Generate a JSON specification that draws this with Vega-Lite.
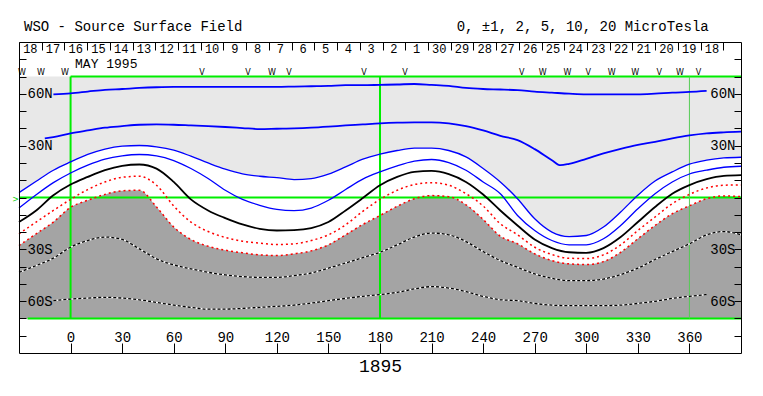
{
  "$schema": "https://vega.github.io/schema/vega-lite/v6.json",
  "width": 722,
  "height": 311,
  "autosize": "none",
  "padding": {"left": 19, "top": 42, "right": 22, "bottom": 43},
  "background": "white",
  "config": {
    "view": {"stroke": null},
    "font": "Liberation Mono",
    "axis": {"grid": false, "domain": true, "domainColor": "black", "domainWidth": 1, "tickColor": "black", "tickWidth": 1, "labelColor": "black", "labelFont": "Liberation Mono", "labelFontSize": 14, "titleFont": "Liberation Mono", "titleColor": "black", "labelOverlap": false, "labelFlush": false}
  },
  "datasets": {
    "contours": [
      {"lon": -30, "L3": 2.8, "L4": -6.1, "L5": -14.2, "L6": -21.0, "L7": -27.8, "L8": -43.3},
      {"lon": -20, "L3": 9.4, "L4": 1.6, "L5": -7.5, "L6": -14.2, "L7": -21.0, "L8": -39.4},
      {"lon": -15, "L2": 34.2},
      {"lon": -10, "L1": 59.7, "L2": 35.0, "L3": 15.8, "L4": 8.6, "L5": 1.3, "L6": -7.5, "L7": -14.2, "L8": -35.1, "L9": -59.7},
      {"lon": 0, "L1": 60.3, "L2": 37.1, "L3": 20.6, "L4": 14.2, "L5": 7.5, "L6": -1.1, "L7": -5.7, "L8": -28.8, "L9": -58.8},
      {"lon": 10, "L1": 61.3, "L2": 38.8, "L3": 24.9, "L4": 18.7, "L5": 11.9, "L6": 4.6, "L7": -1.6, "L8": -24.9, "L9": -58.2},
      {"lon": 20, "L1": 62.3, "L2": 40.4, "L3": 28.0, "L4": 22.2, "L5": 15.8, "L6": 9.0, "L7": 1.8, "L8": -22.9, "L9": -57.8},
      {"lon": 30, "L1": 62.8, "L2": 41.3, "L3": 29.7, "L4": 24.1, "L5": 18.3, "L6": 11.7, "L7": 3.9, "L8": -24.3, "L9": -58.2},
      {"lon": 40, "L1": 63.4, "L2": 42.1, "L3": 30.1, "L4": 24.9, "L5": 19.1, "L6": 12.3, "L7": 4.2, "L8": -29.7, "L9": -59.2},
      {"lon": 50, "L1": 63.8, "L2": 42.3, "L3": 29.3, "L4": 24.1, "L5": 16.7, "L6": 7.1, "L7": -5.5, "L8": -35.5, "L9": -60.7},
      {"lon": 60, "L1": 64.0, "L2": 42.1, "L3": 27.4, "L4": 21.4, "L5": 9.0, "L6": -4.9, "L7": -17.1, "L8": -39.0, "L9": -62.3},
      {"lon": 70, "L1": 64.0, "L2": 41.7, "L3": 23.9, "L4": 16.8, "L5": -1.1, "L6": -14.2, "L7": -24.3, "L8": -41.3, "L9": -63.6},
      {"lon": 80, "L1": 64.0, "L2": 41.3, "L3": 20.0, "L4": 11.0, "L5": -7.5, "L6": -19.7, "L7": -28.2, "L8": -43.3, "L9": -64.6},
      {"lon": 90, "L1": 64.0, "L2": 40.8, "L3": 16.4, "L4": 4.2, "L5": -11.9, "L6": -23.1, "L7": -30.5, "L8": -44.8, "L9": -64.6},
      {"lon": 100, "L1": 64.0, "L2": 40.2, "L3": 13.7, "L4": -1.1, "L5": -15.6, "L6": -25.3, "L7": -32.0, "L8": -45.8, "L9": -64.2},
      {"lon": 110, "L1": 64.0, "L2": 39.6, "L3": 12.3, "L4": -4.5, "L5": -18.1, "L6": -26.4, "L7": -33.2, "L8": -46.2, "L9": -63.6},
      {"lon": 120, "L1": 64.0, "L2": 39.8, "L3": 11.5, "L4": -6.9, "L5": -19.1, "L6": -27.2, "L7": -33.6, "L8": -46.2, "L9": -63.0},
      {"lon": 130, "L1": 64.2, "L2": 40.0, "L3": 10.4, "L4": -7.6, "L5": -18.9, "L6": -26.8, "L7": -32.6, "L8": -45.2, "L9": -62.3},
      {"lon": 140, "L1": 64.4, "L2": 40.4, "L3": 10.9, "L4": -6.1, "L5": -17.7, "L6": -24.9, "L7": -30.9, "L8": -43.7, "L9": -61.1},
      {"lon": 150, "L1": 64.6, "L2": 41.0, "L3": 13.5, "L4": -1.6, "L5": -14.2, "L6": -21.6, "L7": -27.4, "L8": -40.9, "L9": -59.7},
      {"lon": 160, "L1": 65.0, "L2": 41.7, "L3": 17.7, "L4": 4.6, "L5": -7.5, "L6": -15.8, "L7": -21.6, "L8": -37.9, "L9": -58.4},
      {"lon": 170, "L1": 65.0, "L2": 42.3, "L3": 22.2, "L4": 10.6, "L5": -0.3, "L6": -8.0, "L7": -15.6, "L8": -34.8, "L9": -57.2},
      {"lon": 180, "L1": 65.2, "L2": 42.9, "L3": 25.1, "L4": 14.8, "L5": 7.1, "L6": -1.1, "L7": -10.4, "L8": -31.7, "L9": -56.2},
      {"lon": 190, "L1": 65.4, "L2": 43.3, "L3": 27.2, "L4": 18.3, "L5": 11.9, "L6": 4.2, "L7": -5.1, "L8": -27.4, "L9": -54.9},
      {"lon": 200, "L1": 65.7, "L2": 43.5, "L3": 28.6, "L4": 21.0, "L5": 14.8, "L6": 7.5, "L7": -0.7, "L8": -22.9, "L9": -52.9},
      {"lon": 210, "L1": 65.2, "L2": 43.5, "L3": 28.6, "L4": 22.0, "L5": 15.4, "L6": 8.6, "L7": 1.1, "L8": -20.6, "L9": -51.6},
      {"lon": 220, "L1": 64.6, "L2": 42.9, "L3": 27.2, "L4": 20.2, "L5": 13.5, "L6": 7.1, "L7": 0.5, "L8": -21.6, "L9": -52.4},
      {"lon": 230, "L1": 63.4, "L2": 41.3, "L3": 23.5, "L4": 15.8, "L5": 9.0, "L6": 2.2, "L7": -4.2, "L8": -25.5, "L9": -54.5},
      {"lon": 240, "L1": 62.8, "L2": 38.8, "L3": 16.8, "L4": 9.0, "L5": 1.7, "L6": -4.9, "L7": -12.7, "L8": -31.3, "L9": -57.2},
      {"lon": 250, "L1": 62.5, "L2": 35.7, "L3": 9.0, "L4": 2.2, "L5": -7.5, "L6": -15.2, "L7": -22.4, "L8": -36.5, "L9": -59.2},
      {"lon": 260, "L1": 62.1, "L2": 33.2, "L3": -0.7, "L4": -10.4, "L5": -16.2, "L6": -21.6, "L7": -26.8, "L8": -40.4, "L9": -59.7},
      {"lon": 270, "L1": 61.3, "L2": 28.0, "L3": -12.3, "L4": -19.1, "L5": -24.3, "L6": -28.8, "L7": -32.6, "L8": -44.2, "L9": -61.3},
      {"lon": 280, "L1": 60.7, "L2": 21.6, "L3": -20.0, "L4": -24.9, "L5": -29.3, "L6": -33.0, "L7": -36.5, "L8": -46.8, "L9": -62.3},
      {"lon": 285, "L2": 18.7},
      {"lon": 290, "L1": 60.1, "L2": 19.5, "L3": -22.6, "L4": -27.4, "L5": -31.7, "L6": -35.2, "L7": -38.4, "L8": -48.1, "L9": -62.6},
      {"lon": 300, "L1": 59.7, "L2": 22.4, "L3": -22.0, "L4": -27.4, "L5": -32.0, "L6": -35.3, "L7": -38.8, "L8": -48.1, "L9": -62.6},
      {"lon": 310, "L1": 59.7, "L2": 25.5, "L3": -17.1, "L4": -23.9, "L5": -29.3, "L6": -33.2, "L7": -37.1, "L8": -47.2, "L9": -62.6},
      {"lon": 320, "L1": 59.7, "L2": 28.2, "L3": -8.4, "L4": -16.2, "L5": -22.9, "L6": -27.4, "L7": -31.7, "L8": -44.6, "L9": -62.3},
      {"lon": 330, "L1": 59.7, "L2": 30.5, "L3": 1.3, "L4": -6.5, "L5": -14.2, "L6": -19.1, "L7": -23.9, "L8": -40.9, "L9": -61.3},
      {"lon": 340, "L1": 60.1, "L2": 32.2, "L3": 9.5, "L4": 2.2, "L5": -5.5, "L6": -11.3, "L7": -16.2, "L8": -35.9, "L9": -60.1},
      {"lon": 350, "L1": 60.7, "L2": 34.2, "L3": 14.8, "L4": 9.0, "L5": 2.2, "L6": -3.6, "L7": -9.4, "L8": -31.3, "L9": -58.4},
      {"lon": 360, "L1": 61.1, "L2": 35.9, "L3": 19.3, "L4": 13.6, "L5": 7.2, "L6": 1.8, "L7": -4.8, "L8": -26.8, "L9": -57.2},
      {"lon": 370, "L1": 61.7, "L2": 37.1, "L3": 21.6, "L4": 15.8, "L5": 10.6, "L6": 5.5, "L7": -0.7, "L8": -21.6, "L9": -56.2},
      {"lon": 380, "L2": 37.7, "L3": 22.9, "L4": 17.5, "L5": 12.5, "L6": 7.1, "L7": 0.9, "L8": -19.7},
      {"lon": 390, "L2": 38.1, "L3": 23.3, "L4": 18.1, "L5": 12.9, "L6": 7.3, "L7": 0.5, "L8": -21.6}
    ],
    "guides": [
      {"lon": 0, "lon2": 0, "lat": -70, "lat2": 70},
      {"lon": 180, "lon2": 180, "lat": -70, "lat2": 70},
      {"lon": -30, "lon2": 390, "lat": 0, "lat2": 0},
      {"lon": 0, "lon2": 390, "lat": 70, "lat2": 70},
      {"lon": -25, "lon2": 390, "lat": -70, "lat2": -70}
    ],
    "meridian": [
      {"lon": 360, "lon2": 360, "lat": -70, "lat2": 70}
    ],
    "plotbox": [
      {"lon": -30, "lon2": 390, "lat": -70, "lat2": 70}
    ],
    "days": [
      {"lon": -23.4, "day": "18"}, {"lon": -10.18, "day": "17"}, {"lon": 3.03, "day": "16"}, {"lon": 16.25, "day": "15"},
      {"lon": 29.47, "day": "14"}, {"lon": 42.69, "day": "13"}, {"lon": 55.9, "day": "12"}, {"lon": 69.12, "day": "11"},
      {"lon": 82.34, "day": "10"}, {"lon": 95.55, "day": "9"}, {"lon": 108.77, "day": "8"}, {"lon": 121.99, "day": "7"},
      {"lon": 135.2, "day": "6"}, {"lon": 148.42, "day": "5"}, {"lon": 161.64, "day": "4"}, {"lon": 174.86, "day": "3"},
      {"lon": 188.07, "day": "2"}, {"lon": 201.29, "day": "1"}, {"lon": 214.51, "day": "30"}, {"lon": 227.72, "day": "29"},
      {"lon": 240.94, "day": "28"}, {"lon": 254.16, "day": "27"}, {"lon": 267.37, "day": "26"}, {"lon": 280.59, "day": "25"},
      {"lon": 293.81, "day": "24"}, {"lon": 307.03, "day": "23"}, {"lon": 320.24, "day": "22"}, {"lon": 333.46, "day": "21"},
      {"lon": 346.68, "day": "20"}, {"lon": 359.89, "day": "19"}, {"lon": 373.11, "day": "18"}
    ],
    "sectors": [
      {"lon": -28.3, "sym": "W"}, {"lon": -17.2, "sym": "W"}, {"lon": -3.2, "sym": "W"}, {"lon": 76.5, "sym": "V"},
      {"lon": 103.2, "sym": "V"}, {"lon": 117.2, "sym": "W"}, {"lon": 127.1, "sym": "V"}, {"lon": 170.7, "sym": "V"},
      {"lon": 194.5, "sym": "V"}, {"lon": 262.4, "sym": "V"}, {"lon": 274.7, "sym": "W"}, {"lon": 289.0, "sym": "W"},
      {"lon": 301.2, "sym": "V"}, {"lon": 314.8, "sym": "W"}, {"lon": 328.4, "sym": "W"}, {"lon": 342.5, "sym": "V"},
      {"lon": 354.5, "sym": "W"}, {"lon": 365.2, "sym": "V"}
    ],
    "notes": [
      {"id": "title", "label": "WSO - Source Surface Field"},
      {"id": "levels", "label": "0, ±1, 2, 5, 10, 20 MicroTesla"},
      {"id": "month", "label": "MAY 1995"},
      {"id": "eq", "label": ">"}
    ]
  },
  "layer": [
    {
      "data": {"name": "plotbox"},
      "mark": {"type": "rect", "fill": "#e8e8e8"},
      "encoding": {
        "x": {"field": "lon", "type": "quantitative", "scale": {"domain": [-30, 390], "nice": false, "zero": false}, "axis": null},
        "x2": {"field": "lon2"},
        "y": {"field": "lat", "type": "quantitative", "scale": {"domain": [-90, 90], "nice": false, "zero": false}, "axis": null},
        "y2": {"field": "lat2"}
      }
    },
    {
      "data": {"name": "contours"},
      "mark": {"type": "area", "fill": "white", "interpolate": "monotone", "invalid": "filter"},
      "encoding": {
        "x": {"field": "lon", "type": "quantitative", "scale": {"domain": [-30, 390], "nice": false, "zero": false}, "axis": null},
        "y": {"field": "L3", "type": "quantitative", "scale": {"domain": [-90, 90], "nice": false, "zero": false}, "axis": null},
        "y2": {"datum": -70}
      }
    },
    {
      "data": {"name": "contours"},
      "mark": {"type": "area", "fill": "#a4a4a4", "interpolate": "monotone", "invalid": "filter"},
      "encoding": {
        "x": {"field": "lon", "type": "quantitative", "scale": {"domain": [-30, 390], "nice": false, "zero": false}, "axis": null},
        "y": {"field": "L7", "type": "quantitative", "scale": {"domain": [-90, 90], "nice": false, "zero": false}, "axis": null},
        "y2": {"datum": -70}
      }
    },
    {
      "data": {"name": "guides"},
      "mark": {"type": "rule", "color": "#00ee00", "strokeWidth": 2},
      "encoding": {
        "x": {"field": "lon", "type": "quantitative", "scale": {"domain": [-30, 390], "nice": false, "zero": false}, "axis": null},
        "x2": {"field": "lon2"},
        "y": {"field": "lat", "type": "quantitative", "scale": {"domain": [-90, 90], "nice": false, "zero": false}, "axis": null},
        "y2": {"field": "lat2"}
      }
    },
    {
      "data": {"name": "meridian"},
      "mark": {"type": "rule", "color": "#55cc55", "strokeWidth": 1},
      "encoding": {
        "x": {"field": "lon", "type": "quantitative", "scale": {"domain": [-30, 390], "nice": false, "zero": false}, "axis": null},
        "x2": {"field": "lon2"},
        "y": {"field": "lat", "type": "quantitative", "scale": {"domain": [-90, 90], "nice": false, "zero": false}, "axis": null},
        "y2": {"field": "lat2"}
      }
    },
    {
      "data": {"name": "contours"},
      "mark": {"type": "line", "stroke": "#0000ff", "strokeWidth": 1.8, "interpolate": "monotone", "invalid": "filter"},
      "encoding": {
        "x": {"field": "lon", "type": "quantitative", "scale": {"domain": [-30, 390], "nice": false, "zero": false}, "axis": null},
        "y": {"field": "L1", "type": "quantitative", "scale": {"domain": [-90, 90], "nice": false, "zero": false}, "axis": null}}
    },
    {
      "data": {"name": "contours"},
      "mark": {"type": "line", "stroke": "#0000ff", "strokeWidth": 1.8, "interpolate": "monotone", "invalid": "filter"},
      "encoding": {
        "x": {"field": "lon", "type": "quantitative", "scale": {"domain": [-30, 390], "nice": false, "zero": false}, "axis": null},
        "y": {"field": "L2", "type": "quantitative", "scale": {"domain": [-90, 90], "nice": false, "zero": false}, "axis": null}}
    },
    {
      "data": {"name": "contours"},
      "mark": {"type": "line", "stroke": "#0000ff", "strokeWidth": 1.3, "interpolate": "monotone", "invalid": "filter"},
      "encoding": {
        "x": {"field": "lon", "type": "quantitative", "scale": {"domain": [-30, 390], "nice": false, "zero": false}, "axis": null},
        "y": {"field": "L3", "type": "quantitative", "scale": {"domain": [-90, 90], "nice": false, "zero": false}, "axis": null}}
    },
    {
      "data": {"name": "contours"},
      "mark": {"type": "line", "stroke": "#0000ff", "strokeWidth": 1.3, "interpolate": "monotone", "invalid": "filter"},
      "encoding": {
        "x": {"field": "lon", "type": "quantitative", "scale": {"domain": [-30, 390], "nice": false, "zero": false}, "axis": null},
        "y": {"field": "L4", "type": "quantitative", "scale": {"domain": [-90, 90], "nice": false, "zero": false}, "axis": null}}
    },
    {
      "data": {"name": "contours"},
      "mark": {"type": "line", "stroke": "black", "strokeWidth": 1.8, "interpolate": "monotone", "invalid": "filter"},
      "encoding": {
        "x": {"field": "lon", "type": "quantitative", "scale": {"domain": [-30, 390], "nice": false, "zero": false}, "axis": null},
        "y": {"field": "L5", "type": "quantitative", "scale": {"domain": [-90, 90], "nice": false, "zero": false}, "axis": null}}
    },
    {
      "data": {"name": "contours"},
      "mark": {"type": "line", "stroke": "#ff0000", "strokeWidth": 1.5, "strokeDash": [2, 3], "interpolate": "monotone", "invalid": "filter"},
      "encoding": {
        "x": {"field": "lon", "type": "quantitative", "scale": {"domain": [-30, 390], "nice": false, "zero": false}, "axis": null},
        "y": {"field": "L6", "type": "quantitative", "scale": {"domain": [-90, 90], "nice": false, "zero": false}, "axis": null}}
    },
    {
      "data": {"name": "contours"},
      "mark": {"type": "line", "stroke": "#ff0000", "strokeWidth": 1.5, "strokeDash": [2, 3], "interpolate": "monotone", "invalid": "filter"},
      "encoding": {
        "x": {"field": "lon", "type": "quantitative", "scale": {"domain": [-30, 390], "nice": false, "zero": false}, "axis": null},
        "y": {"field": "L7", "type": "quantitative", "scale": {"domain": [-90, 90], "nice": false, "zero": false}, "axis": null}}
    },
    {
      "data": {"name": "contours"},
      "mark": {"type": "line", "stroke": "white", "strokeWidth": 1.3, "interpolate": "monotone", "invalid": "filter"},
      "encoding": {
        "x": {"field": "lon", "type": "quantitative", "scale": {"domain": [-30, 390], "nice": false, "zero": false}, "axis": null},
        "y": {"field": "L8", "type": "quantitative", "scale": {"domain": [-90, 90], "nice": false, "zero": false}, "axis": null}}
    },
    {
      "data": {"name": "contours"},
      "mark": {"type": "line", "stroke": "black", "strokeWidth": 1.3, "strokeDash": [3, 2], "interpolate": "monotone", "invalid": "filter"},
      "encoding": {
        "x": {"field": "lon", "type": "quantitative", "scale": {"domain": [-30, 390], "nice": false, "zero": false}, "axis": null},
        "y": {"field": "L8", "type": "quantitative", "scale": {"domain": [-90, 90], "nice": false, "zero": false}, "axis": null}}
    },
    {
      "data": {"name": "contours"},
      "mark": {"type": "line", "stroke": "white", "strokeWidth": 1.3, "interpolate": "monotone", "invalid": "filter"},
      "encoding": {
        "x": {"field": "lon", "type": "quantitative", "scale": {"domain": [-30, 390], "nice": false, "zero": false}, "axis": null},
        "y": {"field": "L9", "type": "quantitative", "scale": {"domain": [-90, 90], "nice": false, "zero": false}, "axis": null}}
    },
    {
      "data": {"name": "contours"},
      "mark": {"type": "line", "stroke": "black", "strokeWidth": 1.3, "strokeDash": [3, 2], "interpolate": "monotone", "invalid": "filter"},
      "encoding": {
        "x": {"field": "lon", "type": "quantitative", "scale": {"domain": [-30, 390], "nice": false, "zero": false}, "axis": null},
        "y": {"field": "L9", "type": "quantitative", "scale": {"domain": [-90, 90], "nice": false, "zero": false}, "axis": null}}
    },
    {
      "data": {"name": "days"},
      "mark": {"type": "text", "font": "Liberation Mono", "fontSize": 12, "align": "center", "baseline": "middle", "color": "black"},
      "encoding": {
        "x": {"field": "lon", "type": "quantitative", "scale": {"domain": [-30, 390], "nice": false, "zero": false}, "axis": null},
        "y": {"datum": 85.7, "type": "quantitative", "scale": {"domain": [-90, 90], "nice": false, "zero": false}, "axis": null},
        "text": {"field": "day"}
      }
    },
    {
      "data": {"name": "sectors"},
      "mark": {"type": "text", "font": "DejaVu Sans", "fontSize": 8, "align": "center", "baseline": "middle", "color": "black"},
      "encoding": {
        "x": {"field": "lon", "type": "quantitative", "scale": {"domain": [-30, 390], "nice": false, "zero": false}, "axis": null},
        "y": {"datum": 71.9, "type": "quantitative", "scale": {"domain": [-90, 90], "nice": false, "zero": false}, "axis": null},
        "text": {"field": "sym"}
      }
    },
    {
      "data": {"name": "notes"},
      "transform": [{"filter": "datum.id == 'title'"}],
      "mark": {"type": "text", "font": "Liberation Mono", "fontSize": 14, "align": "left", "baseline": "middle", "color": "black"},
      "encoding": {
        "x": {"datum": -27.1, "type": "quantitative", "scale": {"domain": [-30, 390], "nice": false, "zero": false}, "axis": null},
        "y": {"datum": 98.4, "type": "quantitative", "scale": {"domain": [-90, 90], "nice": false, "zero": false}, "axis": null},
        "text": {"field": "label"}
      }
    },
    {
      "data": {"name": "notes"},
      "transform": [{"filter": "datum.id == 'levels'"}],
      "mark": {"type": "text", "font": "Liberation Mono", "fontSize": 14, "align": "left", "baseline": "middle", "color": "black"},
      "encoding": {
        "x": {"datum": 224.6, "type": "quantitative", "scale": {"domain": [-30, 390], "nice": false, "zero": false}, "axis": null},
        "y": {"datum": 98.4, "type": "quantitative", "scale": {"domain": [-90, 90], "nice": false, "zero": false}, "axis": null},
        "text": {"field": "label"}
      }
    },
    {
      "data": {"name": "notes"},
      "transform": [{"filter": "datum.id == 'month'"}],
      "mark": {"type": "text", "font": "Liberation Mono", "fontSize": 13, "align": "left", "baseline": "middle", "color": "black"},
      "encoding": {
        "x": {"datum": 2.6, "type": "quantitative", "scale": {"domain": [-30, 390], "nice": false, "zero": false}, "axis": null},
        "y": {"datum": 77.4, "type": "quantitative", "scale": {"domain": [-90, 90], "nice": false, "zero": false}, "axis": null},
        "text": {"field": "label"}
      }
    },
    {
      "data": {"name": "notes"},
      "transform": [{"filter": "datum.id == 'eq'"}],
      "mark": {"type": "text", "font": "DejaVu Sans", "fontSize": 8, "align": "right", "baseline": "middle", "color": "#00cc00"},
      "encoding": {
        "x": {"datum": -30, "type": "quantitative", "scale": {"domain": [-30, 390], "nice": false, "zero": false}, "axis": null},
        "y": {"datum": -1.5, "type": "quantitative", "scale": {"domain": [-90, 90], "nice": false, "zero": false}, "axis": null},
        "text": {"field": "label"}
      }
    },
    {
      "data": {"name": "plotbox"},
      "mark": {"type": "rect", "fill": "transparent", "opacity": 0},
      "encoding": {
        "x": {"field": "lon", "type": "quantitative", "scale": {"domain": [-30, 390], "nice": false, "zero": false},
          "axis": {"orient": "bottom", "zindex": 1, "values": [0, 30, 60, 90, 120, 150, 180, 210, 240, 270, 300, 330, 360], "tickSize": -10, "labelPadding": -6, "labelBaseline": "middle", "title": "1895", "titleFontSize": 18, "titleFontWeight": "normal", "titleY": 4, "titleBaseline": "top"}},
        "x2": {"field": "lon2"},
        "y": {"field": "lat", "type": "quantitative", "scale": {"domain": [-90, 90], "nice": false, "zero": false},
          "axis": {"orient": "left", "zindex": 1, "values": [-80, -70, -60, -50, -40, -30, -20, -10, 0, 10, 20, 30, 40, 50, 60, 70, 80], "tickSize": -7, "labelPadding": -1, "labelAlign": "left", "labelBaseline": "middle", "title": null,
            "labelExpr": "datum.value == 60 ? '60N' : datum.value == 30 ? '30N' : datum.value == -30 ? '30S' : datum.value == -60 ? '60S' : ''"}},
        "y2": {"field": "lat2"}
      }
    },
    {
      "data": {"name": "plotbox"},
      "mark": {"type": "rect", "fill": "transparent", "opacity": 0},
      "encoding": {
        "x": {"field": "lon", "type": "quantitative", "scale": {"domain": [-30, 390], "nice": false, "zero": false},
          "axis": {"orient": "top", "zindex": 1, "values": [-30, -16.8, -3.58, 9.63, 22.85, 36.07, 49.29, 62.5, 75.72, 88.94, 102.15, 115.37, 128.59, 141.8, 155.02, 168.24, 181.46, 194.67, 207.89, 221.11, 234.32, 247.54, 260.76, 273.97, 287.19, 300.41, 313.63, 326.84, 340.06, 353.28, 366.49, 379.71], "tickSize": -8, "labels": false, "title": null}},
        "x2": {"field": "lon2"},
        "y": {"field": "lat", "type": "quantitative", "scale": {"domain": [-90, 90], "nice": false, "zero": false},
          "axis": {"orient": "right", "zindex": 1, "values": [-80, -70, -60, -50, -40, -30, -20, -10, 0, 10, 20, 30, 40, 50, 60, 70, 80], "tickSize": -7, "labelPadding": 1, "labelAlign": "right", "labelBaseline": "middle", "title": null,
            "labelExpr": "datum.value == 60 ? '60N' : datum.value == 30 ? '30N' : datum.value == -30 ? '30S' : datum.value == -60 ? '60S' : ''"}},
        "y2": {"field": "lat2"}
      }
    }
  ],
  "resolve": {"axis": {"x": "independent", "y": "independent"}}
}
